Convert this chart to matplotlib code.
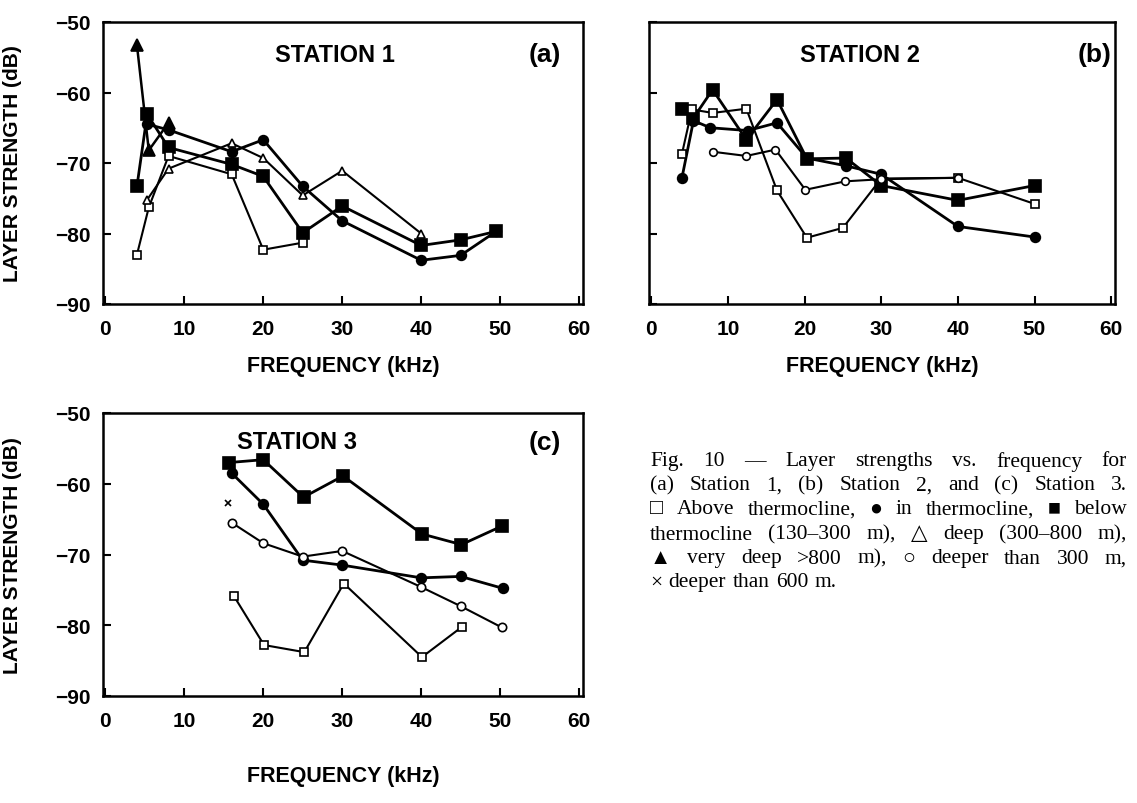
import matplotlib
matplotlib.use("Agg")
import matplotlib.pyplot as plt

# ---------------- data ----------------
# Station 1 (a)
a_above_f = [4, 5.5, 8, 16, 20, 25]
a_above_v = [-83.0, -76.3, -69.0, -71.6, -82.3, -81.3]
a_in_f = [5.3, 8, 16, 20, 25, 30, 40, 45, 49.5]
a_in_v = [-64.5, -65.3, -68.4, -66.7, -73.3, -78.2, -83.8, -83.1, -79.7]
a_below_f = [4, 5.3, 8, 16, 20, 25, 30, 40, 45, 49.5]
a_below_v = [-73.3, -63.1, -67.8, -70.2, -71.9, -79.9, -76.1, -81.7, -80.9, -79.7]
a_deep_f = [5.3, 8, 16, 20, 25, 30, 40]
a_deep_v = [-75.2, -70.8, -67.2, -69.3, -74.6, -71.1, -80.0]
a_vdeep_f = [4, 5.5, 8]
a_vdeep_v = [-53.3, -68.2, -64.3]

# Station 2 (b)
b_above_f = [4, 5.3, 8, 12.4, 16.4, 20.3, 25, 30, 40, 50]
b_above_v = [-68.7, -62.4, -62.9, -62.3, -73.9, -80.6, -79.2, -72.2, -72.1, -75.8]
b_in_f = [4, 5.5, 7.7, 12.6, 16.4, 20.3, 25.4, 30, 40, 50]
b_in_v = [-72.1, -64.0, -65.0, -65.4, -64.3, -69.3, -70.4, -71.6, -79.0, -80.5]
b_below_f = [4, 5.5, 8, 12.4, 16.4, 20.3, 25.4, 30, 40, 50]
b_below_v = [-62.4, -63.6, -59.6, -66.7, -61.0, -69.4, -69.3, -73.2, -75.3, -73.2]
b_deep_f = [8, 12.4, 16.2, 20.1, 25.3, 30, 40]
b_deep_v = [-68.4, -69.0, -68.1, -73.8, -72.6, -72.3, -72.1]

# Station 3 (c)
c_above_f = [16.3, 20.1, 25.2, 30.2, 40.1, 45.2]
c_above_v = [-75.9, -82.8, -83.8, -74.1, -84.5, -80.2]
c_in_f = [16, 20, 25, 30, 40, 45, 50.4]
c_in_v = [-58.5, -62.9, -70.8, -71.5, -73.3, -73.1, -74.8]
c_below_f = [15.7, 20, 25.1, 30.1, 40.1, 45.1, 50.2]
c_below_v = [-57.0, -56.6, -61.9, -58.9, -67.1, -68.6, -66.0]
c_d300_f = [16, 20, 25, 30, 40, 45, 50.2]
c_d300_v = [-65.5, -68.4, -70.3, -69.5, -74.6, -77.3, -80.3]
c_d600_f = [15.5]
c_d600_v = [-62.7]

x_ticks = [0, 10, 20, 30, 40, 50, 60]
y_ticks = [-90, -80, -70, -60, -50]
xlabel = "FREQUENCY (kHz)"
ylabel = "LAYER STRENGTH (dB)"

caption_lines = [
    "Fig. 10 \u2014 Layer strengths vs. frequency for",
    "(a) Station 1, (b) Station 2, and (c) Station 3.",
    "\u25A1 Above thermocline, \u25CF in thermocline, \u25A0 below",
    "thermocline (130\u2013300 m), \u25B3 deep (300\u2013800 m),",
    "\u25B2 very deep >800 m), \u25CB deeper than 300 m,",
    "\u00D7 deeper than 600 m.",
]

# ---------------- style ----------------
plt.rcParams['axes.unicode_minus'] = True
NARROW = ['Liberation Sans', 'DejaVu Sans']
BOLDF = ['Liberation Sans', 'DejaVu Sans']

W, H = 1137, 804
fig = plt.figure(figsize=(W / 100, H / 100), dpi=100)


def ax_rect(l, t, r, b):
    return [l / W, 1 - b / H, (r - l) / W, (b - t) / H]


ax_a = fig.add_axes(ax_rect(103, 23, 583, 305))
ax_b = fig.add_axes(ax_rect(649, 23, 1115, 305))
ax_c = fig.add_axes(ax_rect(103, 414, 583, 697))


def style(ax, show_ylabels, xpad):
    ax.set_xlim(-0.3, 60.5)
    ax.set_ylim(-90, -50)
    ax.set_xticks(x_ticks)
    ax.set_yticks(y_ticks)
    for s in ax.spines.values():
        s.set_linewidth(1.8)
    ax.tick_params(direction='in', length=6, width=1.5, top=False, right=False,
                   labelsize=15)
    ax.tick_params(axis='x', pad=11)
    ax.tick_params(axis='y', pad=9)
    for lab in ax.get_xticklabels() + ax.get_yticklabels():
        lab.set_family(NARROW)
        lab.set_fontweight('bold')
    ax.set_xlabel(xlabel, family=NARROW, fontweight='bold', fontsize=15.5, labelpad=xpad)
    if show_ylabels:
        ax.set_ylabel(ylabel, family=NARROW, fontweight='bold', fontsize=15)
    else:
        ax.set_yticklabels([])


def series(ax, f, v, marker, filled, ms, lw):
    ax.plot(f, v, color='black', lw=lw, marker=marker, ms=ms,
            mfc='black' if filled else 'white', mec='black',
            mew=1.2, zorder=4 if filled else 5, clip_on=False)


# (a)
series(ax_a, a_below_f, a_below_v, 's', True, 8, 2.0)
series(ax_a, a_in_f, a_in_v, 'o', True, 7, 2.0)
series(ax_a, a_vdeep_f, a_vdeep_v, '^', True, 8, 1.8)
series(ax_a, a_above_f, a_above_v, 's', False, 5.5, 1.5)
series(ax_a, a_deep_f, a_deep_v, '^', False, 6, 1.5)
style(ax_a, True, 12)
ax_a.text(0.483, 0.885, "STATION 1", transform=ax_a.transAxes, ha='center', va='center',
          family=BOLDF, fontweight='bold', fontsize=17)
ax_a.text(0.921, 0.885, "(a)", transform=ax_a.transAxes, ha='center', va='center',
          family=BOLDF, fontweight='bold', fontsize=19)

# (b)
series(ax_b, b_below_f, b_below_v, 's', True, 8, 2.0)
series(ax_b, b_in_f, b_in_v, 'o', True, 7, 2.0)
series(ax_b, b_above_f, b_above_v, 's', False, 5.5, 1.5)
series(ax_b, b_deep_f, b_deep_v, 'o', False, 5.5, 1.5)
style(ax_b, False, 12)
ax_b.text(0.453, 0.885, "STATION 2", transform=ax_b.transAxes, ha='center', va='center',
          family=BOLDF, fontweight='bold', fontsize=17)
ax_b.text(0.957, 0.885, "(b)", transform=ax_b.transAxes, ha='center', va='center',
          family=BOLDF, fontweight='bold', fontsize=19)

# (c)
series(ax_c, c_below_f, c_below_v, 's', True, 8, 2.0)
series(ax_c, c_in_f, c_in_v, 'o', True, 7, 2.0)
series(ax_c, c_above_f, c_above_v, 's', False, 5.5, 1.5)
series(ax_c, c_d300_f, c_d300_v, 'o', False, 6, 1.5)
ax_c.plot(c_d600_f, c_d600_v, ls='none', marker='x', color='black', ms=4, mew=1.2, zorder=5)
style(ax_c, True, 25)
ax_c.text(0.404, 0.898, "STATION 3", transform=ax_c.transAxes, ha='center', va='center',
          family=BOLDF, fontweight='bold', fontsize=17)
ax_c.text(0.921, 0.898, "(c)", transform=ax_c.transAxes, ha='center', va='center',
          family=BOLDF, fontweight='bold', fontsize=19)

# y label positions (center ~ x=22 px)
ax_a.yaxis.set_label_coords(-(103 - 22) / 480, 0.5)
ax_c.yaxis.set_label_coords(-(103 - 22) / 480, 0.5)

# ---------------- caption (justified) ----------------
CAPF = ['Liberation Serif', 'DejaVu Sans']
CAPS = 15.5
renderer = fig.canvas.get_renderer()
cap_x0, cap_x1 = 650, 1127
cap_y = [462, 486, 510, 535, 559, 583]
for i, line in enumerate(caption_lines):
    words = line.split(' ')
    texts = [fig.text(0, 1 - cap_y[i] / H, w, family=CAPF, fontsize=CAPS,
                      ha='left', va='center') for w in words]
    widths = [t.get_window_extent(renderer).width for t in texts]
    last = (i == len(caption_lines) - 1)
    if last or len(words) == 1:
        gap = CAPS * 1.39 * 0.3
    else:
        gap = (cap_x1 - cap_x0 - sum(widths)) / (len(words) - 1)
    x = cap_x0
    for t, w in zip(texts, widths):
        t.set_x(x / W)
        x += w + gap

fig.savefig("out.png", dpi=100)
